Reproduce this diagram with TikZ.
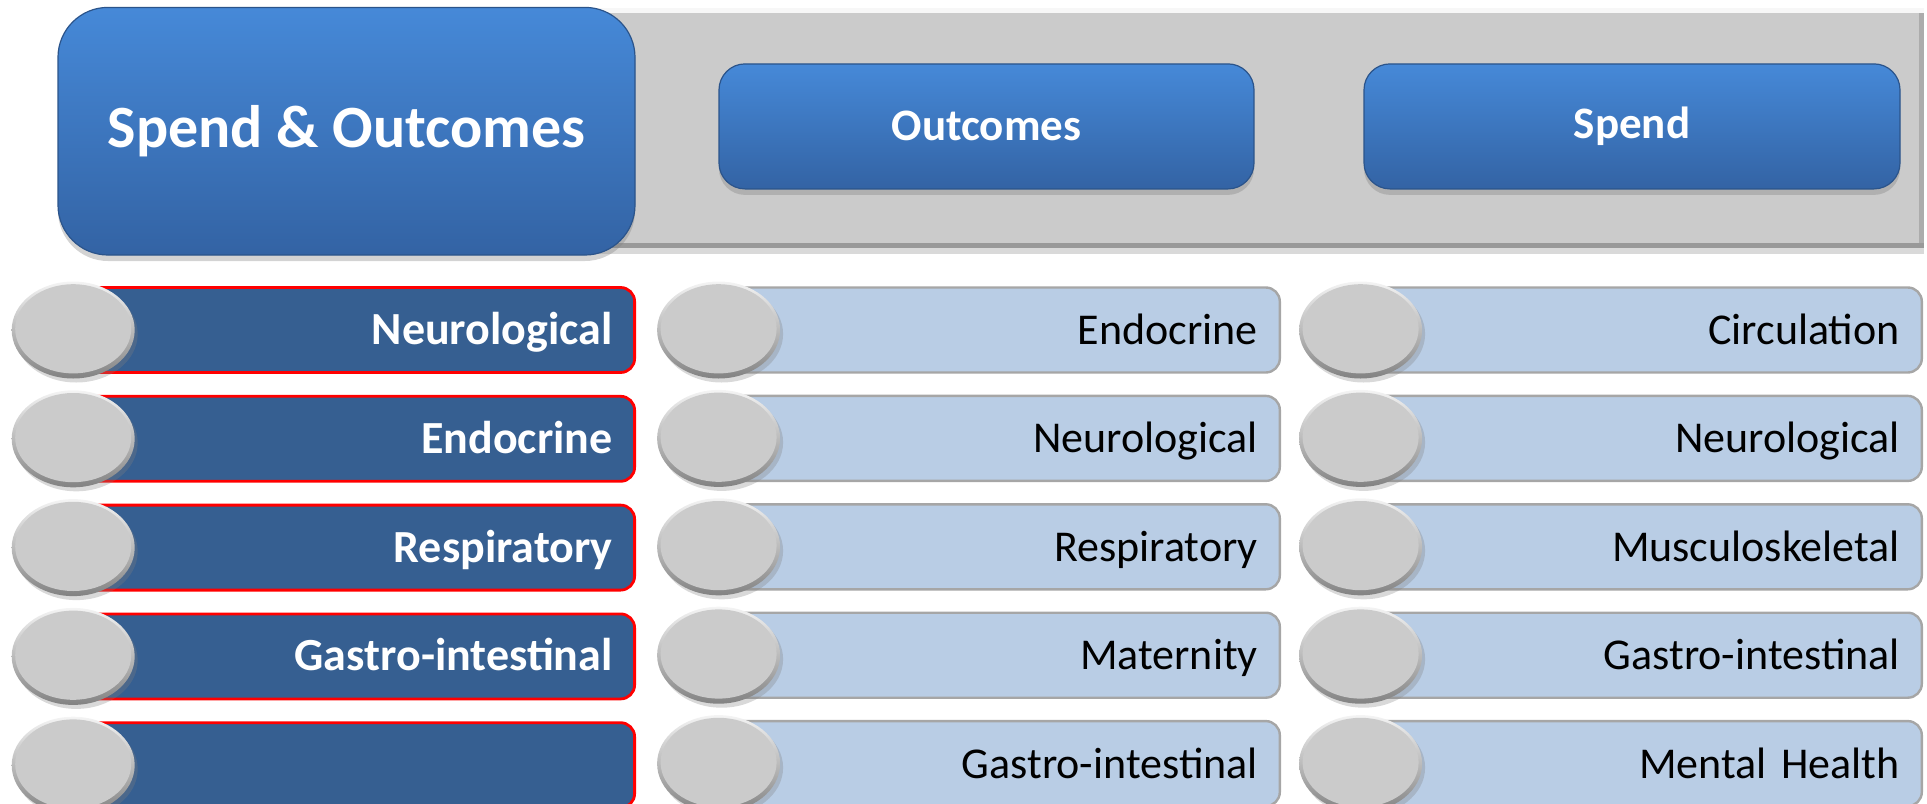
\documentclass[tikz,border=0pt]{standalone}
\usepackage{fontspec}
\setmainfont{Carlito}
\usetikzlibrary{positioning,shapes.geometric,shadows}
\definecolor{btnTop}{HTML}{4689D8}
\definecolor{btnBot}{HTML}{3363A4}
\definecolor{bandGray}{HTML}{CBCBCB}
\definecolor{barDark}{HTML}{365F91}
\definecolor{barLight}{HTML}{B9CDE5}
\definecolor{barEdge}{HTML}{A6A6A6}
\definecolor{dotGray}{HTML}{CBCBCB}
\definecolor{dotLight}{HTML}{F4F4F4}
\definecolor{dotDark}{HTML}{828282}

\begin{document}
\begin{tikzpicture}[
					x=1pt, y=1pt,
					% --- buttons in the header ---
					bluebtn/.style={
						rectangle, rounded corners=13pt,
						top color=btnTop, bottom color=btnBot,
						draw=btnBot!85!black, line width=0.6pt,
						text=white, font=\fontsize{22.5}{26}\selectfont\bfseries,
						drop shadow={shadow xshift=0pt, shadow yshift=-3pt, opacity=0.35}
					},
					band/.style={
						rectangle, fill=bandGray, inner sep=0pt, anchor=north west,
						drop shadow={shadow xshift=0pt, shadow yshift=-3pt, opacity=0.3},
						path picture={
							\fill[white!85!bandGray] (path picture bounding box.north west) rectangle ([yshift=-2.5pt]path picture bounding box.north east);
							\fill[gray!80] ([yshift=2.5pt]path picture bounding box.south west) rectangle (path picture bounding box.south east);
							\fill[gray!65] ([xshift=-2.5pt,yshift=-2.5pt]path picture bounding box.north east) rectangle ([yshift=2.5pt]path picture bounding box.south east);
						}
					},
					% --- rows below ---
					rowbar/.style={
						rectangle, rounded corners=7pt,
						minimum width=280pt, minimum height=42.5pt,
						text width=258pt, align=right, inner xsep=11pt,
						text height=15pt, text depth=0.5pt, anchor=east,
						font=\fontsize{22}{26}\selectfont
					},
					darkbar/.style={rowbar, fill=barDark, draw=red, line width=1.4pt, text=white, font=\fontsize{23}{27}\selectfont\bfseries},
					lightbar/.style={rowbar, fill=barLight, draw=barEdge, line width=1.2pt, text=black},
					% grey disc: bevelled rim, flat face
					rowdot/.style={
						ellipse, minimum width=61.5pt, minimum height=48.5pt, inner sep=0pt,
						top color=dotLight, bottom color=dotDark,
						drop shadow={shadow xshift=1.5pt, shadow yshift=-2pt, opacity=0.3},
						path picture={
							\fill[dotGray] ([yshift=0.6pt]path picture bounding box.center) ellipse (29pt and 22.3pt);
						}
					}
					]
					\useasboundingbox (0,0) rectangle (963.5,-401.5);
					
					% Header
					\node[band, minimum width=672pt, minimum height=120pt] (band) at (290,-4) {};
					\node[bluebtn, rounded corners=25pt, minimum width=288.5pt, minimum height=123.8pt,
						font=\fontsize{30}{35}\selectfont\bfseries] (spendOut) at (173.25,-65.6) {Spend \& Outcomes};
					\node[bluebtn, minimum width=267.5pt, minimum height=62.5pt] (outHead) at (493.25,-63.2) {Outcomes};
					\node[bluebtn, minimum width=268pt, minimum height=62.5pt] (spendHead) at (816,-63.2) {Spend};
					
					% Column 1 (Spend & Outcomes)
					\node[darkbar] (so1) at (318,-165) {Neurological};
					\node[darkbar, below=10.5pt of so1] (so2) {Endocrine};
					\node[darkbar, below=10.5pt of so2] (so3) {Respiratory};
					\node[darkbar, below=10.5pt of so3] (so4) {Gastro-intestinal};
					\node[darkbar, below=10.5pt of so4] (so5) {};
					
					% Column 2 (Outcomes)
					\node[lightbar] (oc1) at (640.5,-165) {Endocrine};
					\node[lightbar, below=10.5pt of oc1] (oc2) {Neurological};
					\node[lightbar, below=10.5pt of oc2] (oc3) {Respiratory};
					\node[lightbar, below=10.5pt of oc3] (oc4) {Maternity};
					\node[lightbar, below=10.5pt of oc4] (oc5) {Gastro-intestinal};
					
					% Column 3 (Spend)
					\node[lightbar] (sp1) at (961.5,-165) {Circulation};
					\node[lightbar, below=10.5pt of sp1] (sp2) {Neurological};
					\node[lightbar, below=10.5pt of sp2] (sp3) {Musculoskeletal};
					\node[lightbar, below=10.5pt of sp3] (sp4) {Gastro-intestinal};
					\node[lightbar, below=10.5pt of sp4] (sp5) {Mental Health};
					
					% Grey discs on the left end of each bar
					\node[rowdot] (soDot1) at (so1.west) {};
					\node[rowdot] (soDot2) at (so2.west) {};
					\node[rowdot] (soDot3) at (so3.west) {};
					\node[rowdot] (soDot4) at (so4.west) {};
					\node[rowdot] (soDot5) at (so5.west) {};
					\node[rowdot] (ocDot1) at (oc1.west) {};
					\node[rowdot] (ocDot2) at (oc2.west) {};
					\node[rowdot] (ocDot3) at (oc3.west) {};
					\node[rowdot] (ocDot4) at (oc4.west) {};
					\node[rowdot] (ocDot5) at (oc5.west) {};
					\node[rowdot] (spDot1) at (sp1.west) {};
					\node[rowdot] (spDot2) at (sp2.west) {};
					\node[rowdot] (spDot3) at (sp3.west) {};
					\node[rowdot] (spDot4) at (sp4.west) {};
					\node[rowdot] (spDot5) at (sp5.west) {};
				\end{tikzpicture}
\end{document}
